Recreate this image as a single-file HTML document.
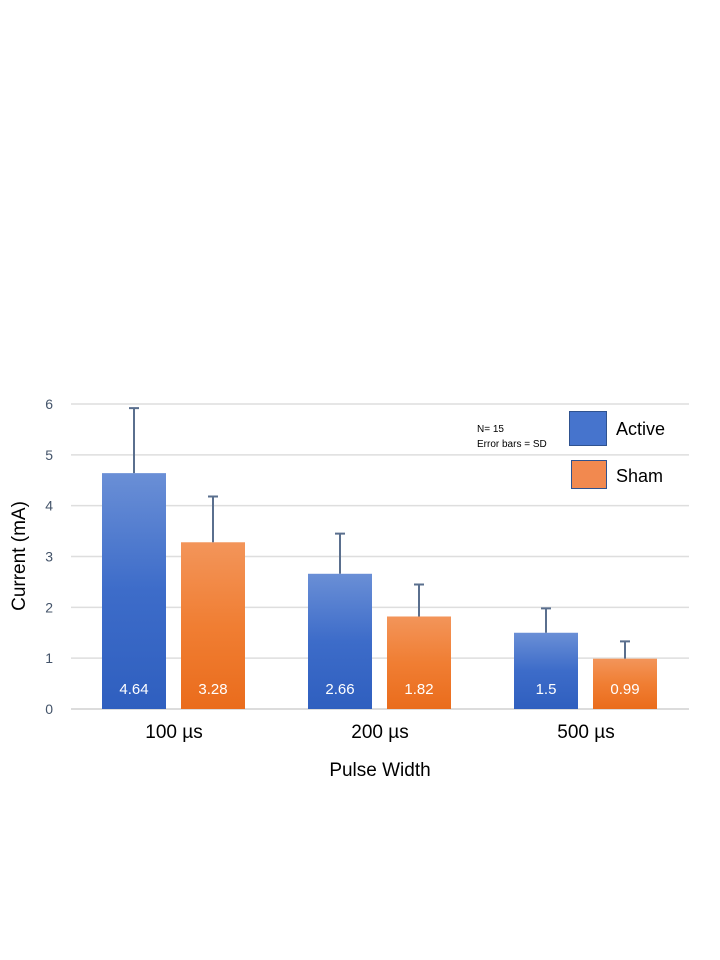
<!DOCTYPE html>
<html><head><meta charset="utf-8"><style>
html,body{margin:0;padding:0;background:#fff;}
svg{display:block;font-family:"Liberation Sans",sans-serif;}
</style></head><body>
<svg id="chart" width="720" height="960">
<defs>
<linearGradient id="gA" x1="0" y1="0" x2="0" y2="1"><stop offset="0" stop-color="#6a8fd6"/><stop offset="0.5" stop-color="#3d6cc9"/><stop offset="1" stop-color="#2f5fbf"/></linearGradient>
<linearGradient id="gS" x1="0" y1="0" x2="0" y2="1"><stop offset="0" stop-color="#f3955a"/><stop offset="0.5" stop-color="#f07e33"/><stop offset="1" stop-color="#ea6c1c"/></linearGradient>
</defs>
<g id="grid"></g><g id="bars"></g>
<text x="25" y="556" transform="rotate(-90 25 556)" text-anchor="middle" font-size="19" fill="#000">Current (mA)</text>
<text x="380" y="776" text-anchor="middle" font-size="19" fill="#000">Pulse Width</text>
<g>
<text x="477" y="432" font-size="10" fill="#000">N= 15</text>
<text x="477" y="447" font-size="10" fill="#000">Error bars = SD</text>
<rect x="569.5" y="411.5" width="37" height="34" fill="#4674cd" stroke="#2f528f"/>
<text x="616" y="435" font-size="18" fill="#000">Active</text>
<rect x="571.5" y="460.5" width="35" height="28" fill="#f2894f" stroke="#2f528f"/>
<text x="616" y="482" font-size="18" fill="#000">Sham</text>
</g>
</svg>
<script>
const categories = ["100 µs","200 µs","500 µs"];
const activeValues = [4.64,2.66,1.5];
const shamValues = [3.28,1.82,0.99];
const activeSD = [1.28,0.79,0.48];
const shamSD = [0.9,0.63,0.34];
const yTicks = [0,1,2,3,4,5,6];
const NS="http://www.w3.org/2000/svg";
const x0=71,x1=689,yBase=709,yTop=404,yMax=6;
const y=v=>yBase-(yBase-yTop)*v/yMax;
const band=(x1-x0)/categories.length;
const grid=document.getElementById('grid'),bars=document.getElementById('bars');
function mk(tag,attrs,parent,txt){const e=document.createElementNS(NS,tag);for(const k in attrs)e.setAttribute(k,attrs[k]);if(txt!==undefined)e.textContent=txt;parent.appendChild(e);return e;}
yTicks.forEach(t=>{
 const l=mk('line',{x1:x0,x2:x1,y1:y(t),y2:y(t),stroke:t===0?'#d0d0d0':'#dedede','stroke-width':1.5},grid);
 
 
 const tx=mk('text',{x:53,y:y(t)+5,'text-anchor':'end','font-size':14,fill:'#44546a'},grid,t);
 
 
});
const bw=64;
categories.forEach((c,i)=>{
 const cx=x0+band*(i+0.5);
 [[activeValues[i],activeSD[i],'url(#gA)',cx-72,'active'],[shamValues[i],shamSD[i],'url(#gS)',cx+7,'sham']].forEach(([v,sd,f,bx,s])=>{
  const r=mk('rect',{x:bx,y:y(v),width:bw,height:yBase-y(v),fill:f},bars);
  
  
  const ex=bx+bw/2;
  const e=mk('path',{d:`M${ex},${y(v)}V${y(v+sd)}M${ex-5},${y(v+sd)}H${ex+5}`,stroke:'#5a6f8e','stroke-width':2,fill:'none'},bars);
  
  
  const t=mk('text',{x:ex,y:694,'text-anchor':'middle','font-size':15,fill:'#fff'},bars,v);
  
  
 });
 const ct=mk('text',{x:cx,y:738,'text-anchor':'middle','font-size':19,fill:'#000'},bars,c);
 
 
});
</script>
</body></html>
